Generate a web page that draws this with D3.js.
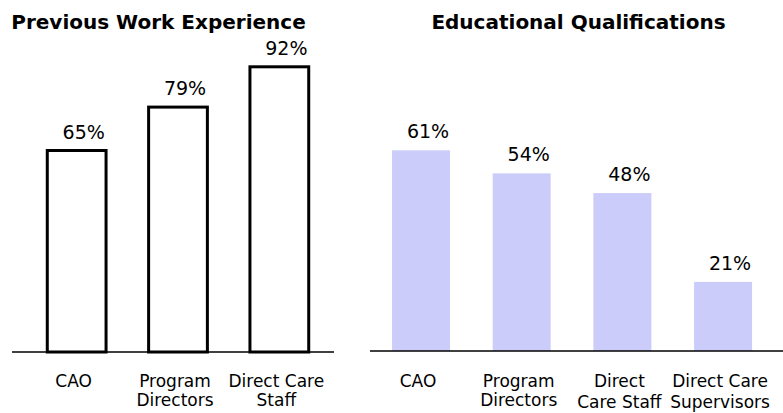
<!DOCTYPE html>
<html>
<head>
<meta charset="utf-8">
<script src="https://cdn.jsdelivr.net/npm/d3@7"></script>
<style>
  html, body { margin: 0; padding: 0; background: #fff; }
  svg { display: block; }
  text { font-family: "DejaVu Sans", sans-serif; fill: #000; }
</style>
</head>
<body>
<svg id="chart" width="783" height="413"></svg>
<script>
// ---- Data ----
const workTitle = "Previous Work Experience";
const workCategories = [["CAO"], ["Program", "Directors"], ["Direct Care", "Staff"]];
const workValues = [65, 79, 92];

const eduTitle = "Educational Qualifications";
const eduCategories = [["CAO"], ["Program", "Directors"], ["Direct", "Care Staff"], ["Direct Care", "Supervisors"]];
const eduValues = [61, 54, 48, 21];

const svg = d3.select("#chart");

function drawPanel(cfg) {
  const g = svg.append("g");
  const x = d3.scaleBand()
    .domain(cfg.categories.map((d, i) => i))
    .range(cfg.xRange)
    .paddingInner(cfg.padIn)
    .paddingOuter(cfg.padOut);
  const y = d3.scaleLinear().domain([0, 100]).range([cfg.baseY, cfg.baseY - cfg.fullH]);

  // title
  g.append("text")
    .attr("x", cfg.titleX)
    .attr("y", 29)
    .attr("text-anchor", "middle")
    .style("font-weight", "bold")
    .style("font-size", "20px")
    .text(cfg.title);

  // bars
  g.selectAll("rect.bar")
    .data(cfg.values)
    .join("rect")
    .attr("class", "bar")
    .attr("x", (d, i) => x(i))
    .attr("width", x.bandwidth())
    .attr("y", d => y(d))
    .attr("height", d => y(0) - y(d))
    .attr("fill", cfg.fill)
    .attr("stroke", cfg.stroke)
    .attr("stroke-width", cfg.strokeW);

  // axis baseline
  g.append("line")
    .attr("x1", cfg.axisX[0]).attr("x2", cfg.axisX[1])
    .attr("y1", cfg.baseY).attr("y2", cfg.baseY)
    .attr("stroke", "#000").attr("stroke-width", 1.5);

  // value labels
  g.selectAll("text.val")
    .data(cfg.values)
    .join("text")
    .attr("class", "val")
    .attr("x", (d, i) => x(i) + x.bandwidth() / 2 + 7)
    .attr("y", d => y(d) - 12)
    .attr("text-anchor", "middle")
    .style("font-size", "19px")
    .text(d => d + "%");

  // category labels
  const cat = g.selectAll("text.cat")
    .data(cfg.categories)
    .join("text")
    .attr("class", "cat")
    .attr("text-anchor", "middle")
    .style("font-size", "17px");
  cat.each(function(lines, i) {
    const t = d3.select(this);
    lines.forEach((ln, j) => {
      t.append("tspan")
        .attr("x", x(i) + x.bandwidth() / 2 - 3)
        .attr("y", 387 + j * cfg.lineGap[i])
        .text(ln);
    });
  });
}

drawPanel({
  title: workTitle, titleX: 158.5,
  categories: workCategories, values: workValues,
  xRange: [26, 330], padIn: 0.42, padOut: 0.21,
  baseY: 352, fullH: 310,
  axisX: [12, 334],
  fill: "#fff", stroke: "#000", strokeW: 3,
  lineGap: [19, 19, 19]
});

drawPanel({
  title: eduTitle, titleX: 578.5,
  categories: eduCategories, values: eduValues,
  xRange: [370.7, 773.4], padIn: 0.424, padOut: 0.212,
  baseY: 351, fullH: 329,
  axisX: [370, 783],
  fill: "#ccccfb", stroke: "none", strokeW: 0,
  lineGap: [19, 19, 21, 21]
});
</script>
</body>
</html>
